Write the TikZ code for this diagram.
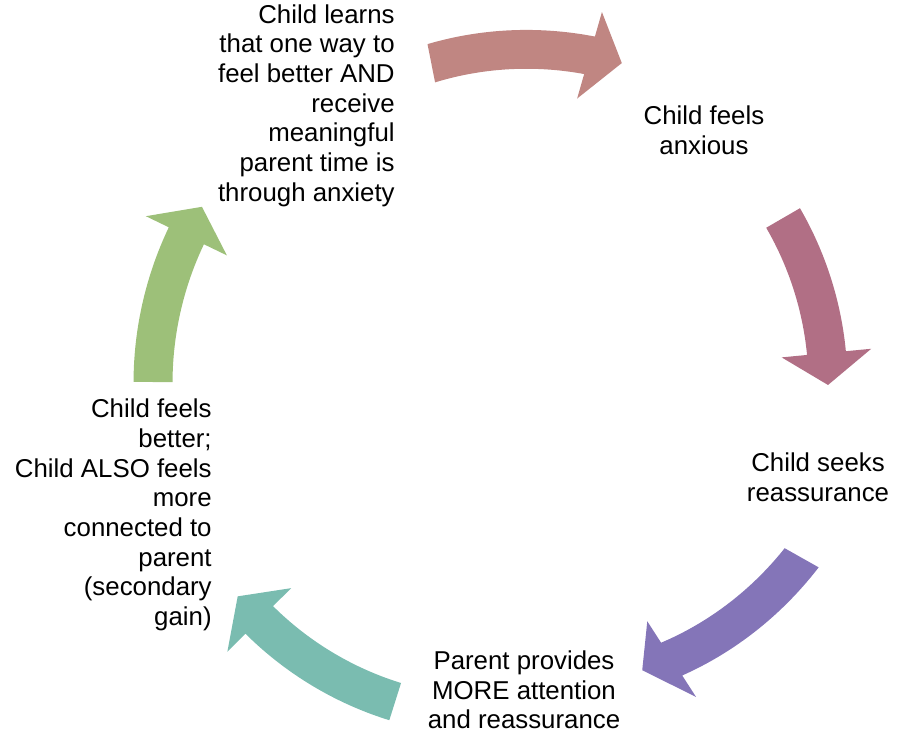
\documentclass[tikz,border=0pt]{standalone}
\usepackage{fontspec}
\setmainfont{Liberation Sans}
\usepackage{tikz}
\usetikzlibrary{calc}
\usepackage{xcolor}
\definecolor{rosebrown}{RGB}{192,134,130}
\definecolor{mauve}{RGB}{177,111,133}
\definecolor{lavender}{RGB}{132,117,184}
\definecolor{seagreen}{RGB}{122,188,176}
\definecolor{sage}{RGB}{157,192,121}

% curved block arrow: colour, tail angle, tip angle, tail radius, tip radius
\newcommand{\cyclearrow}[5]{%
  \pgfmathsetmacro{\headang}{#3+5.5}
  \pgfmathsetmacro{\headrad}{#4+(#5-#4)*(\headang-#2)/(#3-#2)}
  \fill[#1] plot[domain=#2:\headang,samples=40,variable=\t]
      (\t:{#4+(#5-#4)*(\t-#2)/(#3-#2)+19.5})
    -- (\headang:{\headrad+45}) -- (#3:#5) -- (\headang:{\headrad-45})
    -- plot[domain=\headang:#2,samples=40,variable=\t]
      (\t:{#4+(#5-#4)*(\t-#2)/(#3-#2)-19.5}) -- cycle;
}

\begin{document}
\begin{tikzpicture}[x=0.02cm,y=0.02cm,line join=round,
  steptext/.style={inner sep=0pt,font=\fontsize{14.7}{16.9}\selectfont}]
\useasboundingbox (0,0) rectangle (899,732);
\begin{scope}[shift={(495,347)}]
\cyclearrow{rosebrown}{101.2}{68.5}{328}{346}
\cyclearrow{mauve}{30.1}{0}{333}{333}
\cyclearrow{lavender}{-29.4}{-62.7}{352}{321}
\cyclearrow{seagreen}{-107.5}{-140.6}{332}{333}
\cyclearrow{sage}{179.5}{148.7}{342}{343}
\end{scope}
\node[steptext,align=right,anchor=east] (learns) at (395,626.5) {Child learns\\that one way to\\feel better AND\\receive\\meaningful\\parent time is\\through anxiety};
\node[steptext,align=center] (anxious) at (704,602) {Child feels\\anxious};
\node[steptext,align=center] (seeks) at (818,255) {Child seeks\\reassurance};
\node[steptext,align=center] (provides) at (524,42) {Parent provides\\MORE attention\\and reassurance};
\node[steptext,align=right,anchor=east] (better) at (212,217) {Child feels\\better;\\Child ALSO feels\\more\\connected to\\parent\\(secondary\\gain)};
\end{tikzpicture}
\end{document}
